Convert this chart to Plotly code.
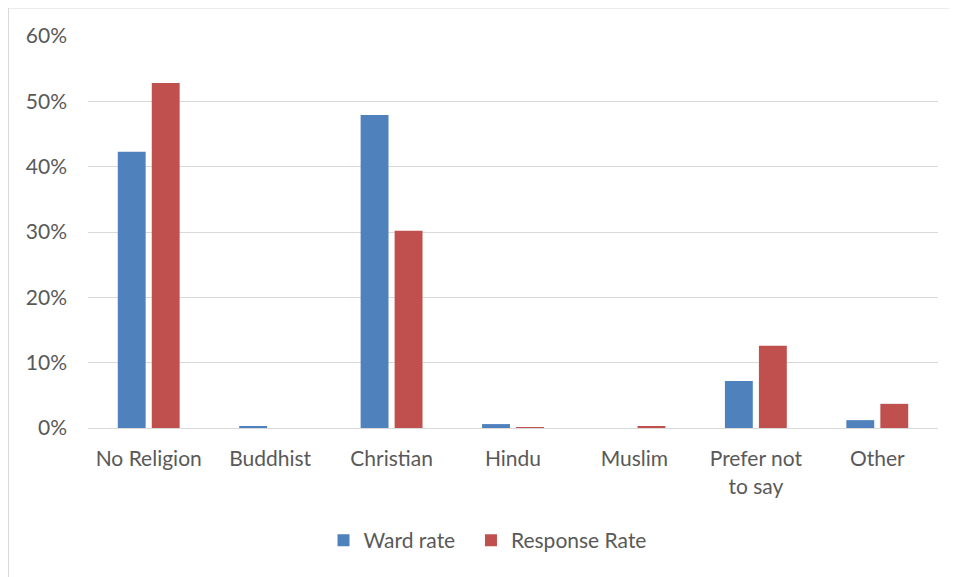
import plotly.graph_objects as go

categories = ["No Religion", "Buddhist", "Christian", "Hindu", "Muslim", "Prefer not<br>to say", "Other"]
ward_rate = [42.3, 0.3, 47.9, 0.6, 0.0, 7.2, 1.2]
response_rate = [52.8, 0.0, 30.2, 0.15, 0.3, 12.6, 3.7]

C_WARD = "#4f81bd"
C_RESP = "#c0504d"
TXT = "#595959"
FONT = "Lato, Carlito, Open Sans, sans-serif"

fig = go.Figure()
fig.add_trace(go.Bar(x=categories, y=ward_rate, name="Ward rate  ",
                     marker=dict(color=C_WARD, line=dict(width=0))))
fig.add_trace(go.Bar(x=categories, y=response_rate, name="Response Rate",
                     marker=dict(color=C_RESP, line=dict(width=0))))

# chart frame (left & top edges visible)
fig.add_shape(type="line", xref="paper", yref="paper",
              x0=-0.0935, x1=-0.0935, y0=-0.40, y1=1.0714,
              line=dict(color="#d9d9d9", width=1))
fig.add_shape(type="line", xref="paper", yref="paper",
              x0=-0.0935, x1=1.03, y0=1.0714, y1=1.0714,
              line=dict(color="#d9d9d9", width=1))

fig.update_layout(
    width=949, height=569,
    barmode="group", bargap=0.44, bargroupgap=0.18,
    plot_bgcolor="white", paper_bgcolor="white",
    margin=dict(l=80, r=19, t=28, b=149),
    font=dict(family=FONT, size=21, color=TXT),
    legend=dict(orientation="h", x=0.47, xanchor="center", y=-0.235, yanchor="top",
                font=dict(size=21, color=TXT), itemwidth=30,
                traceorder="normal"),
    xaxis=dict(showgrid=False, showline=True, linecolor="#d9d9d9", linewidth=1,
               tickfont=dict(size=21, color=TXT), ticks="", ticklabelstandoff=12),
    yaxis=dict(range=[0, 60], dtick=10, ticksuffix="%", showgrid=True,
               gridcolor="#d9d9d9", gridwidth=1, zeroline=False,
               tickfont=dict(size=21, color=TXT), ticklabelstandoff=20),
)

fig.write_html("out.html")
